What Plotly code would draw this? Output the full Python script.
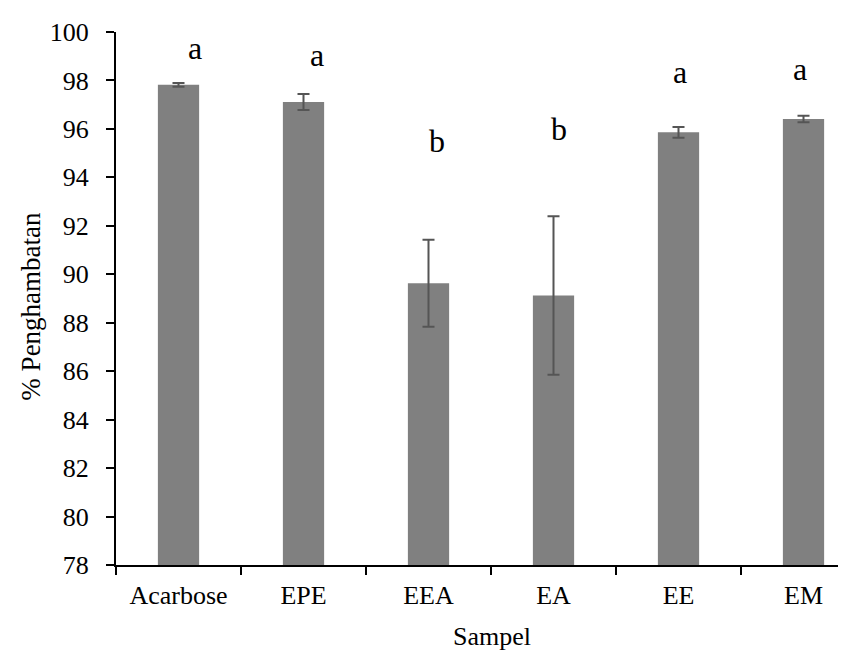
import plotly.graph_objects as go

categories = ["Acarbose", "EPE", "EEA", "EA", "EE", "EM"]
values = [97.82, 97.11, 89.63, 89.12, 95.86, 96.41]
errors = [0.08, 0.33, 1.80, 3.27, 0.22, 0.13]
letters = ["a", "a", "b", "b", "a", "a"]
letter_y = [99.36, 99.07, 95.50, 96.00, 98.33, 98.49]
letter_dx = [0.13, 0.11, 0.07, 0.04, 0.01, -0.03]

y_ticks = list(range(78, 101, 2))

FONT = "Liberation Serif"

fig = go.Figure()
fig.add_trace(go.Bar(
    x=list(range(len(categories))),
    y=values,
    width=0.33,
    marker=dict(color="#808080", line=dict(width=0)),
    error_y=dict(type="data", array=errors, visible=True,
                 color="#555555", thickness=2, width=6),
    showlegend=False,
))

annotations = []
for i, (t, yv, dx) in enumerate(zip(letters, letter_y, letter_dx)):
    annotations.append(dict(x=i + dx, y=yv, xref="x", yref="y", text=t,
                            showarrow=False, font=dict(family=FONT, size=32, color="black")))

annotations.append(dict(x=0.509, y=-0.135, xref="paper", yref="paper", text="Sampel",
                        showarrow=False, xanchor="center", yanchor="middle",
                        font=dict(family=FONT, size=26, color="black")))
annotations.append(dict(x=-0.115, y=0.485, xref="paper", yref="paper", text="% Penghambatan",
                        showarrow=False, xanchor="center", yanchor="middle", textangle=-90,
                        font=dict(family=FONT, size=27, color="black")))

fig.update_layout(
    width=846, height=656,
    margin=dict(l=108, r=0, t=24, b=99),
    paper_bgcolor="white", plot_bgcolor="white",
    font=dict(family=FONT, size=26, color="black"),
    annotations=annotations,
)
fig.update_xaxes(
    range=[-0.5, 5.404],
    tickmode="array",
    tickvals=list(range(len(categories))),
    ticktext=categories,
    tickfont=dict(family=FONT, size=26, color="black"),
    showline=True, linecolor="black", linewidth=2,
    ticks="", showgrid=False, zeroline=False,
    ticklabelstandoff=6,
)
# boundary ticks between categories
fig.update_xaxes(minor=dict(tickmode="array", tickvals=[i - 0.5 for i in range(len(categories))],
                            ticks="outside", ticklen=8, tickwidth=2, tickcolor="black", showgrid=False))
fig.update_yaxes(
    range=[78, 100],
    tickmode="array", tickvals=y_ticks,
    tickfont=dict(family=FONT, size=26, color="black"),
    showline=True, linecolor="black", linewidth=2,
    ticks="outside", ticklen=8, tickwidth=2, tickcolor="black",
    showgrid=False, zeroline=False,
    ticklabelstandoff=12,
)

fig.write_html("out.html")
